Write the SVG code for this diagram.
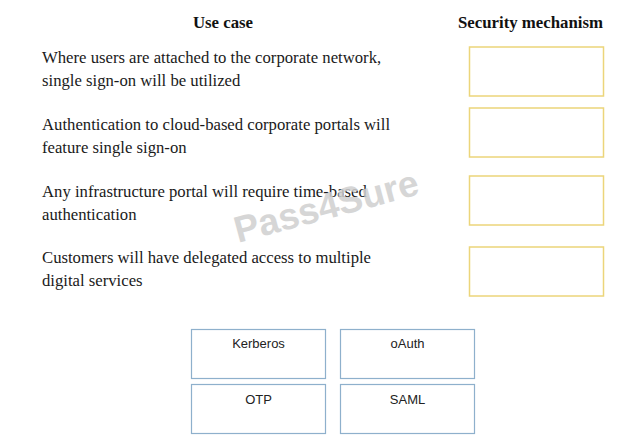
<svg xmlns="http://www.w3.org/2000/svg" width="631" height="444" viewBox="0 0 631 444">
<style>
.hdr{font-family:"Liberation Serif","Times New Roman",serif;font-weight:bold;font-size:16.8px;fill:#111;text-anchor:middle}
.body{font-family:"Liberation Serif","Times New Roman",serif;font-size:16.7px;fill:#1a1a1a}
.slot{fill:#fff;stroke:#ecd57a;stroke-width:1.5}
.opt{fill:#fff;stroke:#8eb0cc;stroke-width:1.2}
.optt{font-family:"Liberation Sans",Arial,sans-serif;font-size:13px;fill:#222;text-anchor:middle}
.wm{font-family:"Liberation Sans",Arial,sans-serif;font-weight:bold;font-size:37px;fill:#cfcfcf;opacity:0.85}
</style>
<rect width="631" height="444" fill="#fff"/>
<text class="hdr" x="223" y="28">Use case</text>
<text class="hdr" x="530.5" y="28">Security mechanism</text>
<g id="row1">
<text class="body" x="42" y="63">Where users are attached to the corporate network,</text>
<text class="body" x="42" y="86">single sign-on will be utilized</text>
<rect class="slot" x="469.5" y="47" width="134" height="49"/>
</g>
<g id="row2">
<text class="body" x="42" y="130">Authentication to cloud-based corporate portals will</text>
<text class="body" x="42" y="153">feature single sign-on</text>
<rect class="slot" x="469.5" y="108" width="134" height="49"/>
</g>
<g id="row3">
<text class="body" x="42" y="197">Any infrastructure portal will require time-based</text>
<text class="body" x="42" y="220">authentication</text>
<rect class="slot" x="469.5" y="176" width="134" height="49"/>
</g>
<g id="row4">
<text class="body" x="42" y="263">Customers will have delegated access to multiple</text>
<text class="body" x="42" y="286">digital services</text>
<rect class="slot" x="469.5" y="247" width="134" height="49"/>
</g>
<g id="connectors"></g>
<g id="kerberos"><rect class="opt" x="191.5" y="329.5" width="134" height="49"/><text class="optt" x="258.5" y="348">Kerberos</text></g>
<g id="oauth"><rect class="opt" x="340.5" y="329.5" width="134" height="49"/><text class="optt" x="407.5" y="348">oAuth</text></g>
<g id="otp"><rect class="opt" x="191.5" y="384.5" width="134" height="49"/><text class="optt" x="258.5" y="404">OTP</text></g>
<g id="saml"><rect class="opt" x="340.5" y="384.5" width="134" height="49"/><text class="optt" x="407.5" y="404">SAML</text></g>
<text class="wm" x="238" y="243" transform="rotate(-15 238 243)">Pass4Sure</text>
</svg>
